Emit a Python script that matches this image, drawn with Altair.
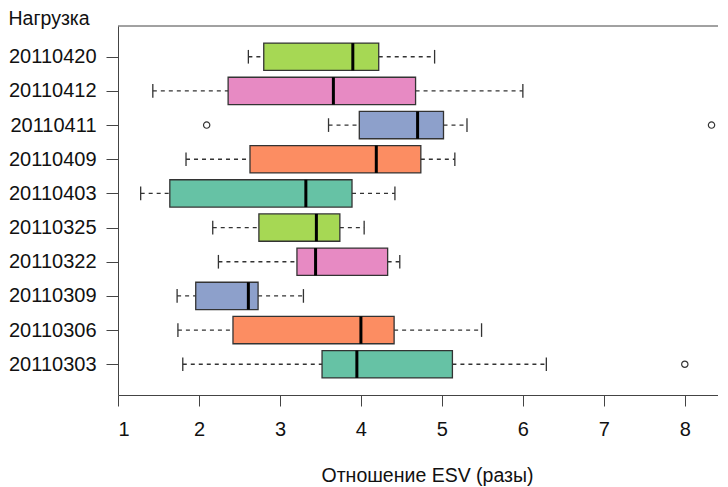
import altair as alt
import pandas as pd

# Categories (bottom to top) and box statistics
cats = ["20110303", "20110306", "20110309", "20110322", "20110325",
        "20110403", "20110409", "20110411", "20110412", "20110420"]
lo  = [1.80, 1.74, 1.73, 2.24, 2.17, 1.28, 1.84, 3.60, 1.43, 2.61]
q1  = [3.52, 2.42, 1.96, 3.21, 2.74, 1.64, 2.63, 3.98, 2.36, 2.80]
med = [3.95, 4.00, 2.61, 3.44, 3.45, 3.32, 4.19, 4.70, 3.66, 3.90]
q3  = [5.13, 4.41, 2.73, 4.33, 3.74, 3.89, 4.74, 5.02, 4.675, 4.22]
hi  = [6.29, 5.49, 3.29, 4.48, 4.04, 4.42, 5.16, 5.31, 6.00, 4.91]

out_cats = ["20110303", "20110411", "20110411"]
out_vals = [8.00, 2.095, 8.33]

colors = ["#66C2A5", "#FC8D62", "#8DA0CB", "#E78AC3", "#A6D854",
          "#66C2A5", "#FC8D62", "#8DA0CB", "#E78AC3", "#A6D854"]
x_ticks = [1, 2, 3, 4, 5, 6, 7, 8]

df = pd.DataFrame({"cat": cats, "idx": list(range(1, len(cats) + 1)),
                   "lo": lo, "q1": q1, "med": med, "q3": q3, "hi": hi})
pos = {c: i + 1 for i, c in enumerate(cats)}
out_df = pd.DataFrame({"cat": out_cats, "val": out_vals,
                       "idx": [pos[c] for c in out_cats]})

W, H = 600, 369
FONT = "Liberation Sans"
LFS = 20
TFS = 19.5
LINE = "#333333"

xscale = alt.Scale(domain=[1, 8.41], nice=False, zero=False)
yscale = alt.Scale(domain=[0.1, 10.9], nice=False, zero=False)

label_expr = "[" + ",".join("'%s'" % c for c in cats) + "][datum.value - 1]"

xaxis = alt.Axis(values=x_ticks, format="d", title="Отношение ESV (разы)",
                 grid=False, tickSize=11, labelPadding=13,
                 domainColor="#444444", tickColor="#444444",
                 labelFontSize=LFS, labelColor="#111111", labelFont=FONT,
                 titleFontSize=TFS, titleFontWeight="normal", titleFont=FONT,
                 titleColor="#111111", titleX=309, titleY=86,
                 titleAlign="center", titleBaseline="alphabetic")
yaxis = alt.Axis(values=list(range(1, len(cats) + 1)), labelExpr=label_expr,
                 title="Нагрузка", grid=False, tickSize=12, labelPadding=10,
                 domainColor="#444444", tickColor="#444444",
                 labelFontSize=LFS, labelColor="#111111", labelFont=FONT,
                 titleFontSize=TFS, titleFontWeight="normal", titleFont=FONT,
                 titleColor="#111111", titleAngle=0, titleAlign="left",
                 titleX=-110, titleY=-17, titleBaseline="top")

base = alt.Chart(df).transform_calculate(
    ylo="datum.idx - 0.4", yhi="datum.idx + 0.4",
    slo="datum.idx - 0.2", shi="datum.idx + 0.2")

Y = alt.Y("idx:Q", scale=yscale, axis=yaxis)

whisk_lo = base.mark_rule(strokeDash=[4, 4], color=LINE, strokeWidth=1.3).encode(
    x=alt.X("lo:Q", scale=xscale, axis=xaxis), x2="q1:Q", y=Y)
whisk_hi = base.mark_rule(strokeDash=[4, 4], color=LINE, strokeWidth=1.3).encode(
    x=alt.X("q3:Q", scale=xscale, axis=xaxis), x2="hi:Q", y=Y)
staple_lo = base.mark_rule(color=LINE, strokeWidth=1.3).encode(
    x=alt.X("lo:Q", scale=xscale, axis=xaxis),
    y=alt.Y("slo:Q", scale=yscale, axis=yaxis), y2="shi:Q")
staple_hi = base.mark_rule(color=LINE, strokeWidth=1.3).encode(
    x=alt.X("hi:Q", scale=xscale, axis=xaxis),
    y=alt.Y("slo:Q", scale=yscale, axis=yaxis), y2="shi:Q")
boxes = base.mark_rect(stroke=LINE, strokeWidth=1.3).encode(
    x=alt.X("q1:Q", scale=xscale, axis=xaxis), x2="q3:Q",
    y=alt.Y("ylo:Q", scale=yscale, axis=yaxis), y2="yhi:Q",
    fill=alt.Fill("cat:N", scale=alt.Scale(domain=cats, range=colors), legend=None))
medians = base.mark_rule(color="#000000", strokeWidth=3).encode(
    x=alt.X("med:Q", scale=xscale, axis=xaxis),
    y=alt.Y("ylo:Q", scale=yscale, axis=yaxis), y2="yhi:Q")
outliers = alt.Chart(out_df).mark_point(shape="circle", filled=False, size=40,
                                        color=LINE, strokeWidth=1.2, opacity=1).encode(
    x=alt.X("val:Q", scale=xscale, axis=xaxis), y=Y)
top_line = alt.Chart(pd.DataFrame({"a": [0]})).mark_rule(color="#444444", strokeWidth=1).encode(
    x=alt.value(0), x2=alt.value(W), y=alt.value(0))

chart = alt.layer(whisk_lo, whisk_hi, staple_lo, staple_hi, boxes, medians,
                  outliers, top_line).properties(
    width=W, height=H,
    padding={"left": 110, "top": 18, "right": 0, "bottom": 92},
    autosize=alt.AutoSizeParams(type="none"),
    background="white",
).configure_view(stroke=None)

chart.save("out.html", embed_options={"renderer": "svg", "actions": False})
